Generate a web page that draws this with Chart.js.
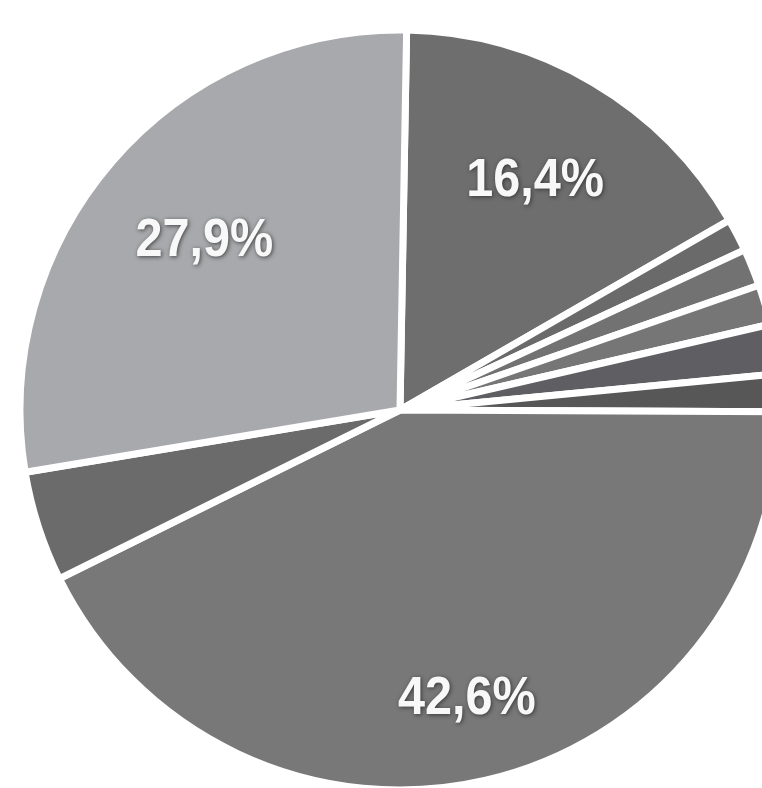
<!DOCTYPE html>
<html>
<head>
<meta charset="utf-8">
<title>Pie</title>
<script src="https://cdn.jsdelivr.net/npm/chart.js@4.4.1/dist/chart.umd.min.js"></script>
<style>
  html, body { margin: 0; padding: 0; background: #fff; overflow: hidden; }
  #wrap { position: absolute; left: 0; top: 0; width: 800px; height: 820px; }
</style>
</head>
<body>
<div id="wrap"><canvas id="pie"></canvas></div>
<script>
// slices clockwise from 12 o'clock
const categories = ["Seg 1", "Seg 2", "Seg 3", "Seg 4", "Seg 5", "Seg 6", "Seg 7", "Seg 8", "Seg 9"];
const shares = [16.4, 1.4, 1.6, 1.7, 2.1, 1.6, 42.6, 4.7, 27.9];
const shades = ["#6e6e6e", "#6a6a6a", "#727272", "#767676", "#5f5f63", "#575757", "#787878", "#6b6b6b", "#a8a9ac"];

const pct = (v) => `${v.toFixed(1).replace(".", ",")}%`;

const sliceLabels = {
  id: "sliceLabels",
  afterDatasetsDraw(chart, args, opts) {
    const ctx = chart.ctx;
    const meta = chart.getDatasetMeta(0);
    meta.data.forEach((arc, i) => {
      const value = shares[i];
      if (value < opts.minValue) return;
      const { x, y, startAngle, endAngle, outerRadius } = arc.getProps(["x", "y", "startAngle", "endAngle", "outerRadius"], true);
      const mid = (startAngle + endAngle) / 2;
      const r = outerRadius * (opts.depth[i] || 0.7);
      ctx.save();
      ctx.translate(x + Math.cos(mid) * r, y + Math.sin(mid) * r);
      ctx.scale(0.9, 1);
      ctx.font = "bold 54px 'Liberation Sans', Arial, sans-serif";
      ctx.textAlign = "center";
      ctx.textBaseline = "middle";
      ctx.shadowColor = "rgba(40,40,40,0.8)";
      ctx.shadowBlur = 4;
      ctx.shadowOffsetX = 1;
      ctx.shadowOffsetY = 1;
      ctx.fillStyle = "#f8f8f8";
      ctx.fillText(pct(value), 0, 0);
      ctx.restore();
    });
  },
};

new Chart(document.getElementById("pie"), {
  type: "pie",
  data: {
    labels: categories,
    datasets: [{
      data: shares,
      backgroundColor: shades,
      borderColor: "#ffffff",
      borderWidth: 7,
      borderJoinStyle: "round",
    }],
  },
  options: {
    responsive: true,
    maintainAspectRatio: false,
    animation: false,
    rotation: 1,
    radius: 380,
    plugins: {
      legend: { display: false },
      tooltip: { enabled: false },
      sliceLabels: { minValue: 10, depth: [0.70, 0, 0, 0, 0, 0, 0.78, 0, 0.68] },
    },
  },
  plugins: [sliceLabels],
});
</script>
</body>
</html>
